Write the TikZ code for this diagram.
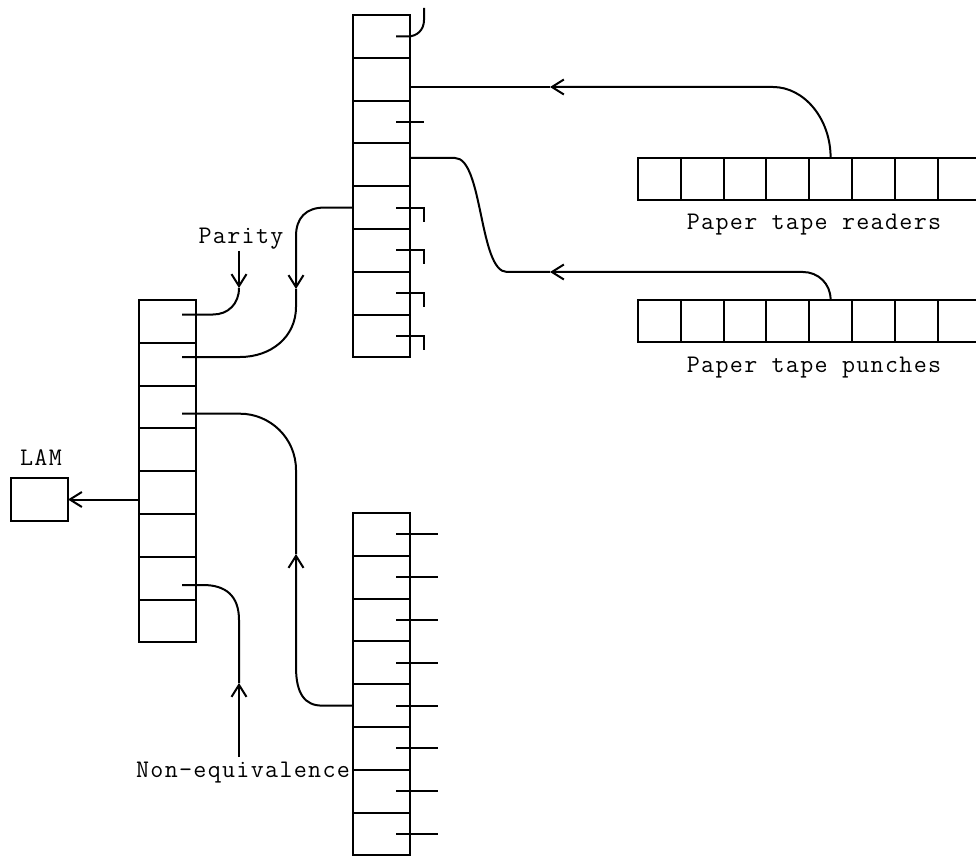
\documentclass[tikz,border=0pt]{standalone}
\usepackage{fontspec}
\setmonofont[LetterSpace=5.2]{Latin Modern Mono}
\usetikzlibrary{arrows.meta}
\tikzset{
  cell/.style={draw, line width=2pt, inner sep=0pt, outer sep=0pt, minimum width=57pt, minimum height=42.8pt},
  tapecell/.style={draw, line width=2pt, inner sep=0pt, outer sep=0pt, minimum width=42.8pt, minimum height=42.8pt},
  wire/.style={line width=2pt},
  flow/.style={line width=2pt, -{Straight Barb[length=12pt,width=15pt]}},
  caption/.style={font=\ttfamily\fontsize{25.3}{28}\selectfont, inner sep=0pt}
}
\begin{document}
\begin{tikzpicture}[x=1pt, y=-1pt]
  \useasboundingbox (0,0) rectangle (976,858);
  % Register columns
  \foreach \i in {1,...,8}{
    \node[cell] (a\i) at (381.5,{15+42.8*(\i-0.5)}) {};
    \node[cell] (b\i) at (167.5,{300+42.8*(\i-0.5)}) {};
    \node[cell] (c\i) at (381.5,{513+42.8*(\i-0.5)}) {};
    % Tape frames
    \node[tapecell] (r\i) at ({638+42.8*(\i-0.5)},179) {};
    \node[tapecell] (p\i) at ({638+42.8*(\i-0.5)},321) {};
  }
  % Labels
  \node[cell, minimum height=43pt] (lam) at (39.5,499.5) {};
  \node[caption] (lamtext) at (41,458) {LAM};
  \node[caption] (parity) at (241,239) {Parity};
  \node[caption] (noneq) at (243,773) {Non-equivalence};
  \node[caption] (readers) at (814,225) {Paper tape readers};
  \node[caption] (punches) at (814,368) {Paper tape punches};
  % Stubs of the top column
  \draw[wire] ([xshift=14.5pt]a1.center) -- ++(12,0)
    .. controls (417,36.4) and (424,30) .. (424,20) -- (424,8);
  \draw[wire] ([xshift=14.5pt]a3.center) -- ++(28,0);
  \foreach \i in {5,...,8}{
    \draw[wire] ([xshift=14.5pt]a\i.center) -- ++(28,0) -- ++(0,14);
  }
  % Stubs of the bottom column
  \foreach \i in {1,...,8}{
    \draw[wire] ([xshift=14.5pt]c\i.center) -- ++(42,0);
  }
  % Paper tape readers
  \coordinate (readtip) at (550,87);
  \draw[flow] (r5.north) .. controls +(0,-39) and +(31,0) .. (773,87) -- (readtip);
  \draw[wire] (readtip) -- ([yshift=-7.8pt]a2.east);
  % Paper tape punches
  \coordinate (punchtip) at (550,272);
  \draw[flow] (p5.north) .. controls +(0,-16) and +(15,0) .. (803,272) -- (punchtip);
  \draw[wire] (punchtip) -- (507,272)
    .. controls (479,272) and (483,158) .. (455,158) -- ([yshift=6.8pt]a4.east);
  % Top column to second cell
  \coordinate (downtip) at (296,289);
  \draw[flow] (a5.west) -- (324,207.6)
    .. controls (306,207.6) and (296,218) .. (296,236) -- (downtip);
  \draw[wire] (downtip) -- (296,307)
    .. controls (296,337) and (271,357) .. (240,357) -- ([xshift=14.5pt,yshift=7.2pt]b2.center);
  % Parity
  \coordinate (paritytip) at (239,288);
  \draw[flow] (239,251) -- (paritytip);
  \draw[wire] (paritytip) .. controls (239,304) and (228,314.5) .. (213,314.5)
    -- ([xshift=14.5pt,yshift=6.9pt]b1.center);
  % Bottom column to third cell
  \coordinate (uptip) at (296,554);
  \draw[flow] (c5.west) -- (322,705.6)
    .. controls (305,705.6) and (296,694) .. (296,667) -- (uptip);
  \draw[wire] (uptip) -- (296,470)
    .. controls (296,438) and (270,413.7) .. (240,413.7) -- ([xshift=14.5pt,yshift=-6.7pt]b3.center);
  % LAM
  \draw[flow] (b5.west |- lam.east) -- (lam.east);
  % Non-equivalence
  \coordinate (noneqtip) at (239,683);
  \draw[flow] (239,757) -- (noneqtip);
  \draw[wire] (noneqtip) -- (239,620)
    .. controls (239,596) and (226,585) .. (203,585) -- ([xshift=14.5pt,yshift=-6.8pt]b7.center);
\end{tikzpicture}
\end{document}
